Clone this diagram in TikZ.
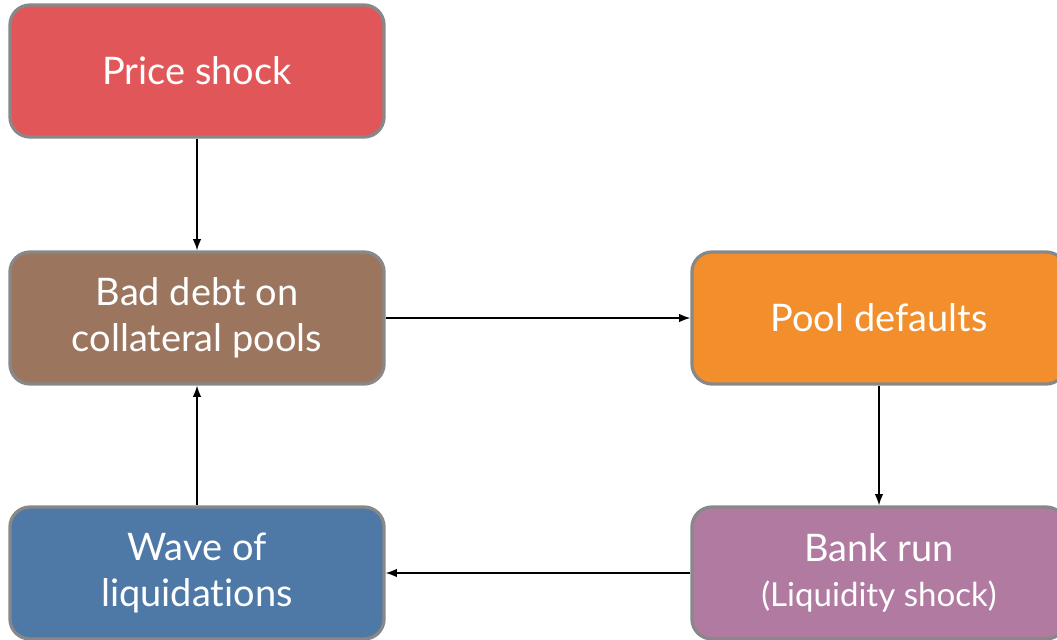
\documentclass[tikz,border=0pt]{standalone}
\usepackage{fontspec}
\setmainfont{Lato}[Ligatures={NoCommon,NoRare}]
\usetikzlibrary{arrows.meta}

\definecolor{shockred}{HTML}{E15759}
\definecolor{debtbrown}{HTML}{9C755F}
\definecolor{poolorange}{HTML}{F28E2B}
\definecolor{liqblue}{HTML}{4E79A7}
\definecolor{runpurple}{HTML}{B07AA1}
\definecolor{edgegray}{HTML}{888888}

\tikzset{
	box/.style={draw=edgegray, line width=2.3pt, rounded corners=0.5cm,
		minimum width=9.35cm, minimum height=3.3cm, align=center,
		text=white, font=\fontsize{27}{33}\selectfont},
	flow/.style={-{Latex[length=8pt,width=6pt]}, line width=1pt, black}
}

\begin{document}
\begin{tikzpicture}[x=0.025cm, y=-0.025cm]
	\useasboundingbox (0,0) rectangle (1057,639);
	\node[box, fill=shockred] (shock) at (197,71) {Price shock};
	\node[box, fill=debtbrown] (debt) at (197,318) {Bad debt on\\collateral pools};
	\node[box, fill=poolorange] (pool) at (879,318) {Pool defaults};
	\node[box, fill=liqblue] (wave) at (197,573) {Wave of\\liquidations};
	\node[box, fill=runpurple, font=\fontsize{27}{32}\selectfont] (run) at (879,573) {Bank run\\{\fontsize{23.5}{32}\selectfont(Liquidity shock)}};
	\draw[flow] (shock) -- (debt);
	\draw[flow] (debt) -- (pool);
	\draw[flow] (pool) -- (run);
	\draw[flow] (run) -- (wave);
	\draw[flow] (wave) -- (debt);
\end{tikzpicture}
\end{document}
